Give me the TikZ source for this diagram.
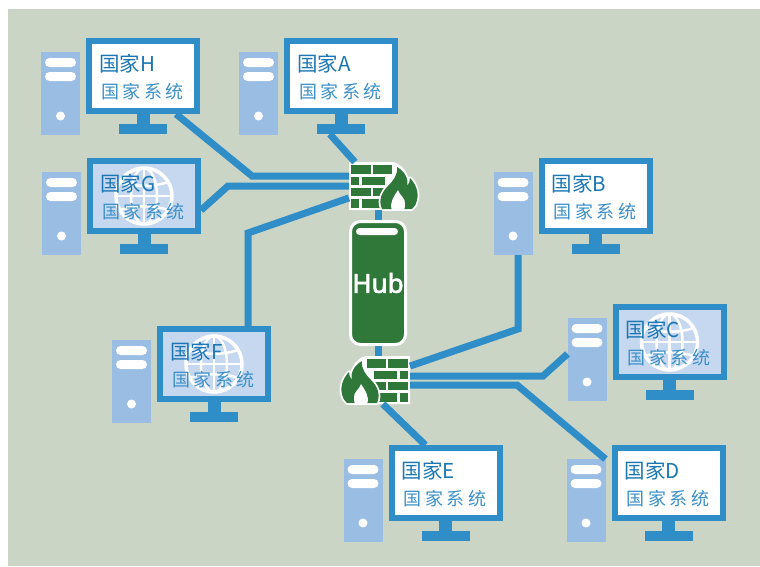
\documentclass[tikz,border=0pt]{standalone}
\usepackage{fontspec}
\usetikzlibrary{positioning}
\newfontfamily\cjk{Noto Sans CJK SC}
\newfontfamily\cjksys[LetterSpace=20]{Noto Sans CJK SC}
\setmainfont{Noto Sans}
\newfontfamily\hubfont[FakeBold=2.5]{Noto Sans}
\definecolor{panelBg}{RGB}{203, 213, 197}
\definecolor{linkBlue}{RGB}{47, 141, 200}
\definecolor{towerBlue}{RGB}{154, 189, 227}
\definecolor{screenTint}{RGB}{198, 216, 240}
\definecolor{hubGreen}{RGB}{48, 119, 58}
\definecolor{labelBlue}{RGB}{27, 119, 180}
\definecolor{sysBlue}{RGB}{60, 144, 200}
\tikzset{
    monbox/.style={draw=linkBlue, line width=6pt, minimum width=108pt, minimum height=70pt, inner sep=0pt},
    neckbox/.style={fill=linkBlue, minimum width=13pt, minimum height=10pt, inner sep=0pt, outer sep=0pt},
    basebox/.style={fill=linkBlue, minimum width=48pt, minimum height=10pt, inner sep=0pt, outer sep=0pt},
    towerbox/.style={fill=towerBlue, minimum width=39pt, minimum height=83pt, inner sep=0pt, outer sep=0pt},
    towerbar/.style={fill=white, rounded corners=4.5pt, minimum width=31pt, minimum height=9pt, inner sep=0pt},
    towerdot/.style={fill=white, circle, minimum size=9pt, inner sep=0pt},
    namelabel/.style={text=labelBlue, font=\cjk\fontsize{20.5}{20}\selectfont, inner sep=0pt, anchor=west},
    syslabel/.style={text=sysBlue, font=\cjksys\fontsize{18}{18}\selectfont, inner sep=0pt, anchor=west},
    link/.style={draw=linkBlue, line width=7pt},
    fwbox/.style={minimum width=69pt, minimum height=48pt, inner sep=0pt, outer sep=0pt},
    hubbox/.style={fill=hubGreen, draw=white, line width=3pt, rounded corners=10pt, minimum width=55pt, minimum height=123pt,
        text=white, font=\hubfont\fontsize{26}{26}\selectfont, inner sep=0pt}
}
% one computer: name, left, top, screen colour, label
\newcommand{\station}[5]{
    \node[monbox, fill=#4, anchor=north west] (#1mon) at (#2,#3) {};
    \node[neckbox, below=0pt of #1mon] (#1neck) {};
    \node[basebox, below=0pt of #1neck] (#1base) {};
    \node[towerbox, anchor=north east] (#1tower) at ([xshift=-6pt, yshift=-14pt]#1mon.north west) {};
    \node[towerbar] (#1bara) at ([yshift=-10.5pt]#1tower.north) {};
    \node[towerbar] (#1barb) at ([yshift=-24.5pt]#1tower.north) {};
    \node[towerdot] (#1dot) at ([yshift=-64pt]#1tower.north) {};
    \ifx#4white\else\stationglobe{#1}\fi
    \node[namelabel] (#1name) at ([xshift=13pt, yshift=-25.5pt]#1mon.north west) {#5};
    \node[syslabel] (#1sys) at ([xshift=15pt, yshift=-54pt]#1mon.north west) {国家系统};
}
\newcommand{\stationglobe}[1]{
    \begin{scope}[shift={(#1mon.center)}, white, line width=2.5pt]
        \draw[line width=3.5pt] (0,0) circle (28);
        \draw (0,0) ellipse (13 and 28);
        \draw (0,-28) -- (0,28);
        \draw (-28,0) -- (28,0);
        \draw (-24,-14) .. controls (-10,-9) and (10,-9) .. (24,-14);
        \draw (-24,14) .. controls (-10,9) and (10,9) .. (24,14);
    \end{scope}
}
% brick wall and flame, drawn from the outer corner of the wall
\def\flamepath{(33,47) .. controls (29,38) and (33,30) .. (39,24)
    .. controls (44,19) and (49,13) .. (48,5) .. controls (55,9) and (60,16) .. (58,24)
    .. controls (60,22) and (61,19) .. (61,16) .. controls (67,22) and (70,31) .. (68,38)
    .. controls (67,42) and (66,45) .. (63,47) -- cycle}
\newcommand{\firewall}[2]{
    \begin{scope}[shift={(#1)}, #2]
        \fill[white] (0,0) -- (44,0) .. controls (50,1) and (55,6) .. (58,12) -- (58,48) -- (0,48) -- cycle;
        \foreach \xa/\ya/\xb/\yb in {2/3/22/12, 24/3/43/12, 2/15/10/23, 13/15/36/23,
                                     2/26/22/34, 24/26/36/34, 2/37/10/46, 13/37/32/46}
            \fill[hubGreen] (\xa,\ya) rectangle (\xb,\yb);
        \draw[white, line width=3.5pt, line join=round] \flamepath;
        \fill[hubGreen] \flamepath;
        \fill[white] (49,28) .. controls (50,33) and (57,36) .. (56,42) .. controls (56,44) and (56,46) .. (55,48)
            -- (43,48) .. controls (40,41) and (45,34) .. (49,28) -- cycle;
    \end{scope}
}

\begin{document}
\begin{tikzpicture}[x=1pt, y=-1pt]
    \useasboundingbox (0,0) rectangle (760,566);
    \fill[panelBg] (8,9) rectangle (760,566);

    % Computers
    \station{h}{86}{38}{white}{国家H}
    \station{a}{284}{38}{white}{国家A}
    \station{g}{87}{158}{screenTint}{国家G}
    \station{b}{538.5}{158}{white}{国家B}
    \station{f}{157}{326}{screenTint}{国家F}
    \station{c}{612.5}{304}{screenTint}{国家C}
    \station{e}{388.5}{445}{white}{国家E}
    \station{d}{611.5}{445}{white}{国家D}

    % Hub and the two firewalls
    \node[hubbox] (hub) at (378,283) {\raisebox{-1.5pt}{Hub}};
    \node[fill=white, rounded corners=3.5pt, minimum width=42pt, minimum height=7pt, inner sep=0pt] (hubbar) at (377,231.5) {};
    \node[fwbox, anchor=north west] (fwtop) at (349,162) {};
    \node[fwbox, anchor=north west] (fwbot) at (341,356) {};
    \firewall{fwtop.north west}{}
    \firewall{fwbot.north east}{xscale=-1}

    % Bends of the links
    \coordinate (hbend) at (252,176);
    \coordinate (gbend) at (228,186);
    \coordinate (fbend) at (248,233);
    \coordinate (bbend) at (518,329);
    \coordinate (cbend) at (543,376);
    \coordinate (dbend) at (517,385);

    % Links
    \draw[link] (hmon.-49) -- (hbend) -- (fwtop.west |- hbend);
    \draw[link] (abase.-156) -- (fwtop.140);
    \draw[link] (gmon.-14) -- (gbend) -- (fwtop.west |- gbend);
    \draw[link] (fmon.48) -- (fbend) -- (fwtop.-161);
    \draw[link] (btower.south -| bbend) -- (bbend) -- (fwbot.22);
    \draw[link] (fwbot.east |- cbend) -- (cbend) -- (ctower.164);
    \draw[link] (fwbot.east |- dbend) -- (dbend) -- (dtower.north east);
    \draw[link] (fwbot.-73) -- (emon.118);
    \draw[link] (fwtop.south -| hub.north) -- (hub.north);
    \draw[link] (hub.south) -- (fwbot.north -| hub.south);
\end{tikzpicture}
\end{document}
